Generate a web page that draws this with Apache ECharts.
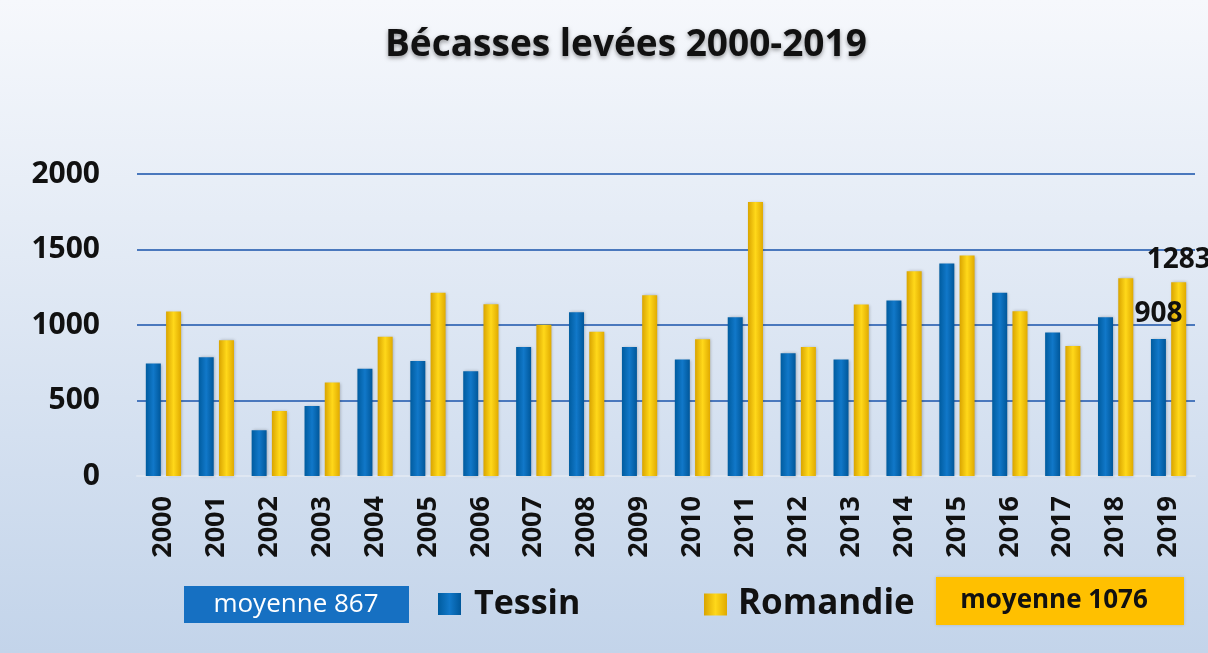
<!DOCTYPE html>
<html>
<head>
<meta charset="utf-8">
<script src="https://cdn.jsdelivr.net/npm/echarts@6/dist/echarts.min.js"></script>
<style>
  html, body { margin: 0; padding: 0; }
  #main { width: 1208px; height: 653px; }
</style>
</head>
<body>
<div id="main"></div>
<script>
// années
var years = ['2000','2001','2002','2003','2004','2005','2006','2007','2008','2009',
             '2010','2011','2012','2013','2014','2015','2016','2017','2018','2019'];
// bécasses levées
var tessin = [745, 786, 303, 464, 711, 762, 694, 855, 1084, 855,
              771, 1051, 813, 771, 1162, 1407, 1213, 950, 1051, 908];
var romandie = [1089, 899, 431, 619, 923, 1213, 1137, 1001, 956, 1197,
                906, 1815, 855, 1135, 1356, 1460, 1091, 861, 1310, 1283];
var yTicks = [0, 500, 1000, 1500, 2000];
var moyTessin = 867;
var moyRomandie = 1076;

var font = 'Open Sans';

function barGrad(a, b, c) {
  return new echarts.graphic.LinearGradient(0, 0, 1, 0, [
    { offset: 0, color: a },
    { offset: 0.5, color: b },
    { offset: 1, color: c }
  ]);
}

// étiquette seulement sur la dernière année
function lastOnly(p) {
  return p.dataIndex === years.length - 1 ? p.value : '';
}

var chart = echarts.init(document.getElementById('main'));

var option = {
  backgroundColor: new echarts.graphic.LinearGradient(0, 0, 0, 1, [
    { offset: 0, color: '#f6f8fc' },
    { offset: 1, color: '#c3d4ea' }
  ]),
  title: {
    text: 'Bécasses levées 2000-2019',
    left: 380,
    top: 22,
    textStyle: {
      fontFamily: font, fontWeight: 'bold', fontSize: 37, color: '#111',
      textShadowColor: 'rgba(0,0,0,0.4)', textShadowBlur: 4, textShadowOffsetY: 2
    }
  },
  graphic: [{
    type: 'group', left: 184, top: 586,
    children: [{
      type: 'rect', shape: { x: 0, y: 0, width: 225, height: 37 },
      style: { fill: '#1670c2' }
    }, {
      type: 'text', x: 112, y: 19,
      style: {
        text: 'moyenne ' + moyTessin, fill: '#fff', align: 'center', verticalAlign: 'middle',
        fontFamily: font, fontSize: 26
      }
    }]
  }, {
    type: 'group', left: 936, top: 577,
    children: [{
      type: 'rect', shape: { x: 0, y: 0, width: 248, height: 48 },
      style: { fill: '#ffc000', shadowColor: 'rgba(0,0,0,0.15)', shadowBlur: 3 }
    }, {
      type: 'text', x: 118, y: 24,
      style: {
        text: 'moyenne ' + moyRomandie, fill: '#111', align: 'center', verticalAlign: 'middle',
        fontFamily: font, fontWeight: 'bold', fontSize: 26
      }
    }]
  }],
  legend: [{
    data: ['Tessin'],
    left: 433, top: 582,
    icon: 'rect', itemWidth: 23, itemHeight: 22,
    textStyle: { fontFamily: font, fontWeight: 'bold', fontSize: 34, color: '#111', padding: [0, 0, 0, 8] }
  }, {
    data: ['Romandie'],
    left: 699, top: 582,
    icon: 'rect', itemWidth: 23, itemHeight: 22,
    textStyle: { fontFamily: font, fontWeight: 'bold', fontSize: 35, color: '#111', padding: [0, 0, 0, 6] }
  }],
  grid: { left: 137, right: 13, top: 174, bottom: 177 },
  xAxis: {
    type: 'category',
    data: years,
    axisLine: { lineStyle: { color: '#dfe7f2', width: 2 } },
    axisTick: { show: false },
    axisLabel: {
      rotate: 90, margin: 20, interval: 0,
      fontFamily: font, fontWeight: 'bold', fontSize: 27, color: '#111'
    }
  },
  yAxis: {
    type: 'value',
    min: yTicks[0], max: yTicks[yTicks.length - 1], interval: 500,
    axisLine: { show: false },
    axisTick: { show: false },
    axisLabel: {
      margin: 37, fontFamily: font, fontWeight: 'bold', fontSize: 30, color: '#111',
      formatter: function (v) { return String(v); }
    },
    splitLine: { lineStyle: { color: '#4a78bd', width: 2 } }
  },
  series: [{
    name: 'Tessin',
    type: 'bar',
    data: tessin,
    barWidth: 15,
    barGap: '35%',
    itemStyle: {
      color: barGrad('#005c9f', '#1178c9', '#00579a'),
      shadowColor: 'rgba(0,0,0,0.25)', shadowBlur: 3, shadowOffsetX: 1
    },
    label: {
      show: true, position: 'top', offset: [0, -6],
      fontFamily: font, fontWeight: 'bold', fontSize: 28, color: '#111',
      formatter: lastOnly
    }
  }, {
    name: 'Romandie',
    type: 'bar',
    data: romandie,
    barWidth: 15,
    itemStyle: {
      color: barGrad('#d9a400', '#ffd81a', '#e0aa00'),
      shadowColor: 'rgba(0,0,0,0.25)', shadowBlur: 3, shadowOffsetX: 1
    },
    label: {
      show: true, position: 'top', offset: [0, -3],
      fontFamily: font, fontWeight: 'bold', fontSize: 28, color: '#111',
      formatter: lastOnly
    }
  }]
};

chart.setOption(option);
</script>
</body>
</html>
